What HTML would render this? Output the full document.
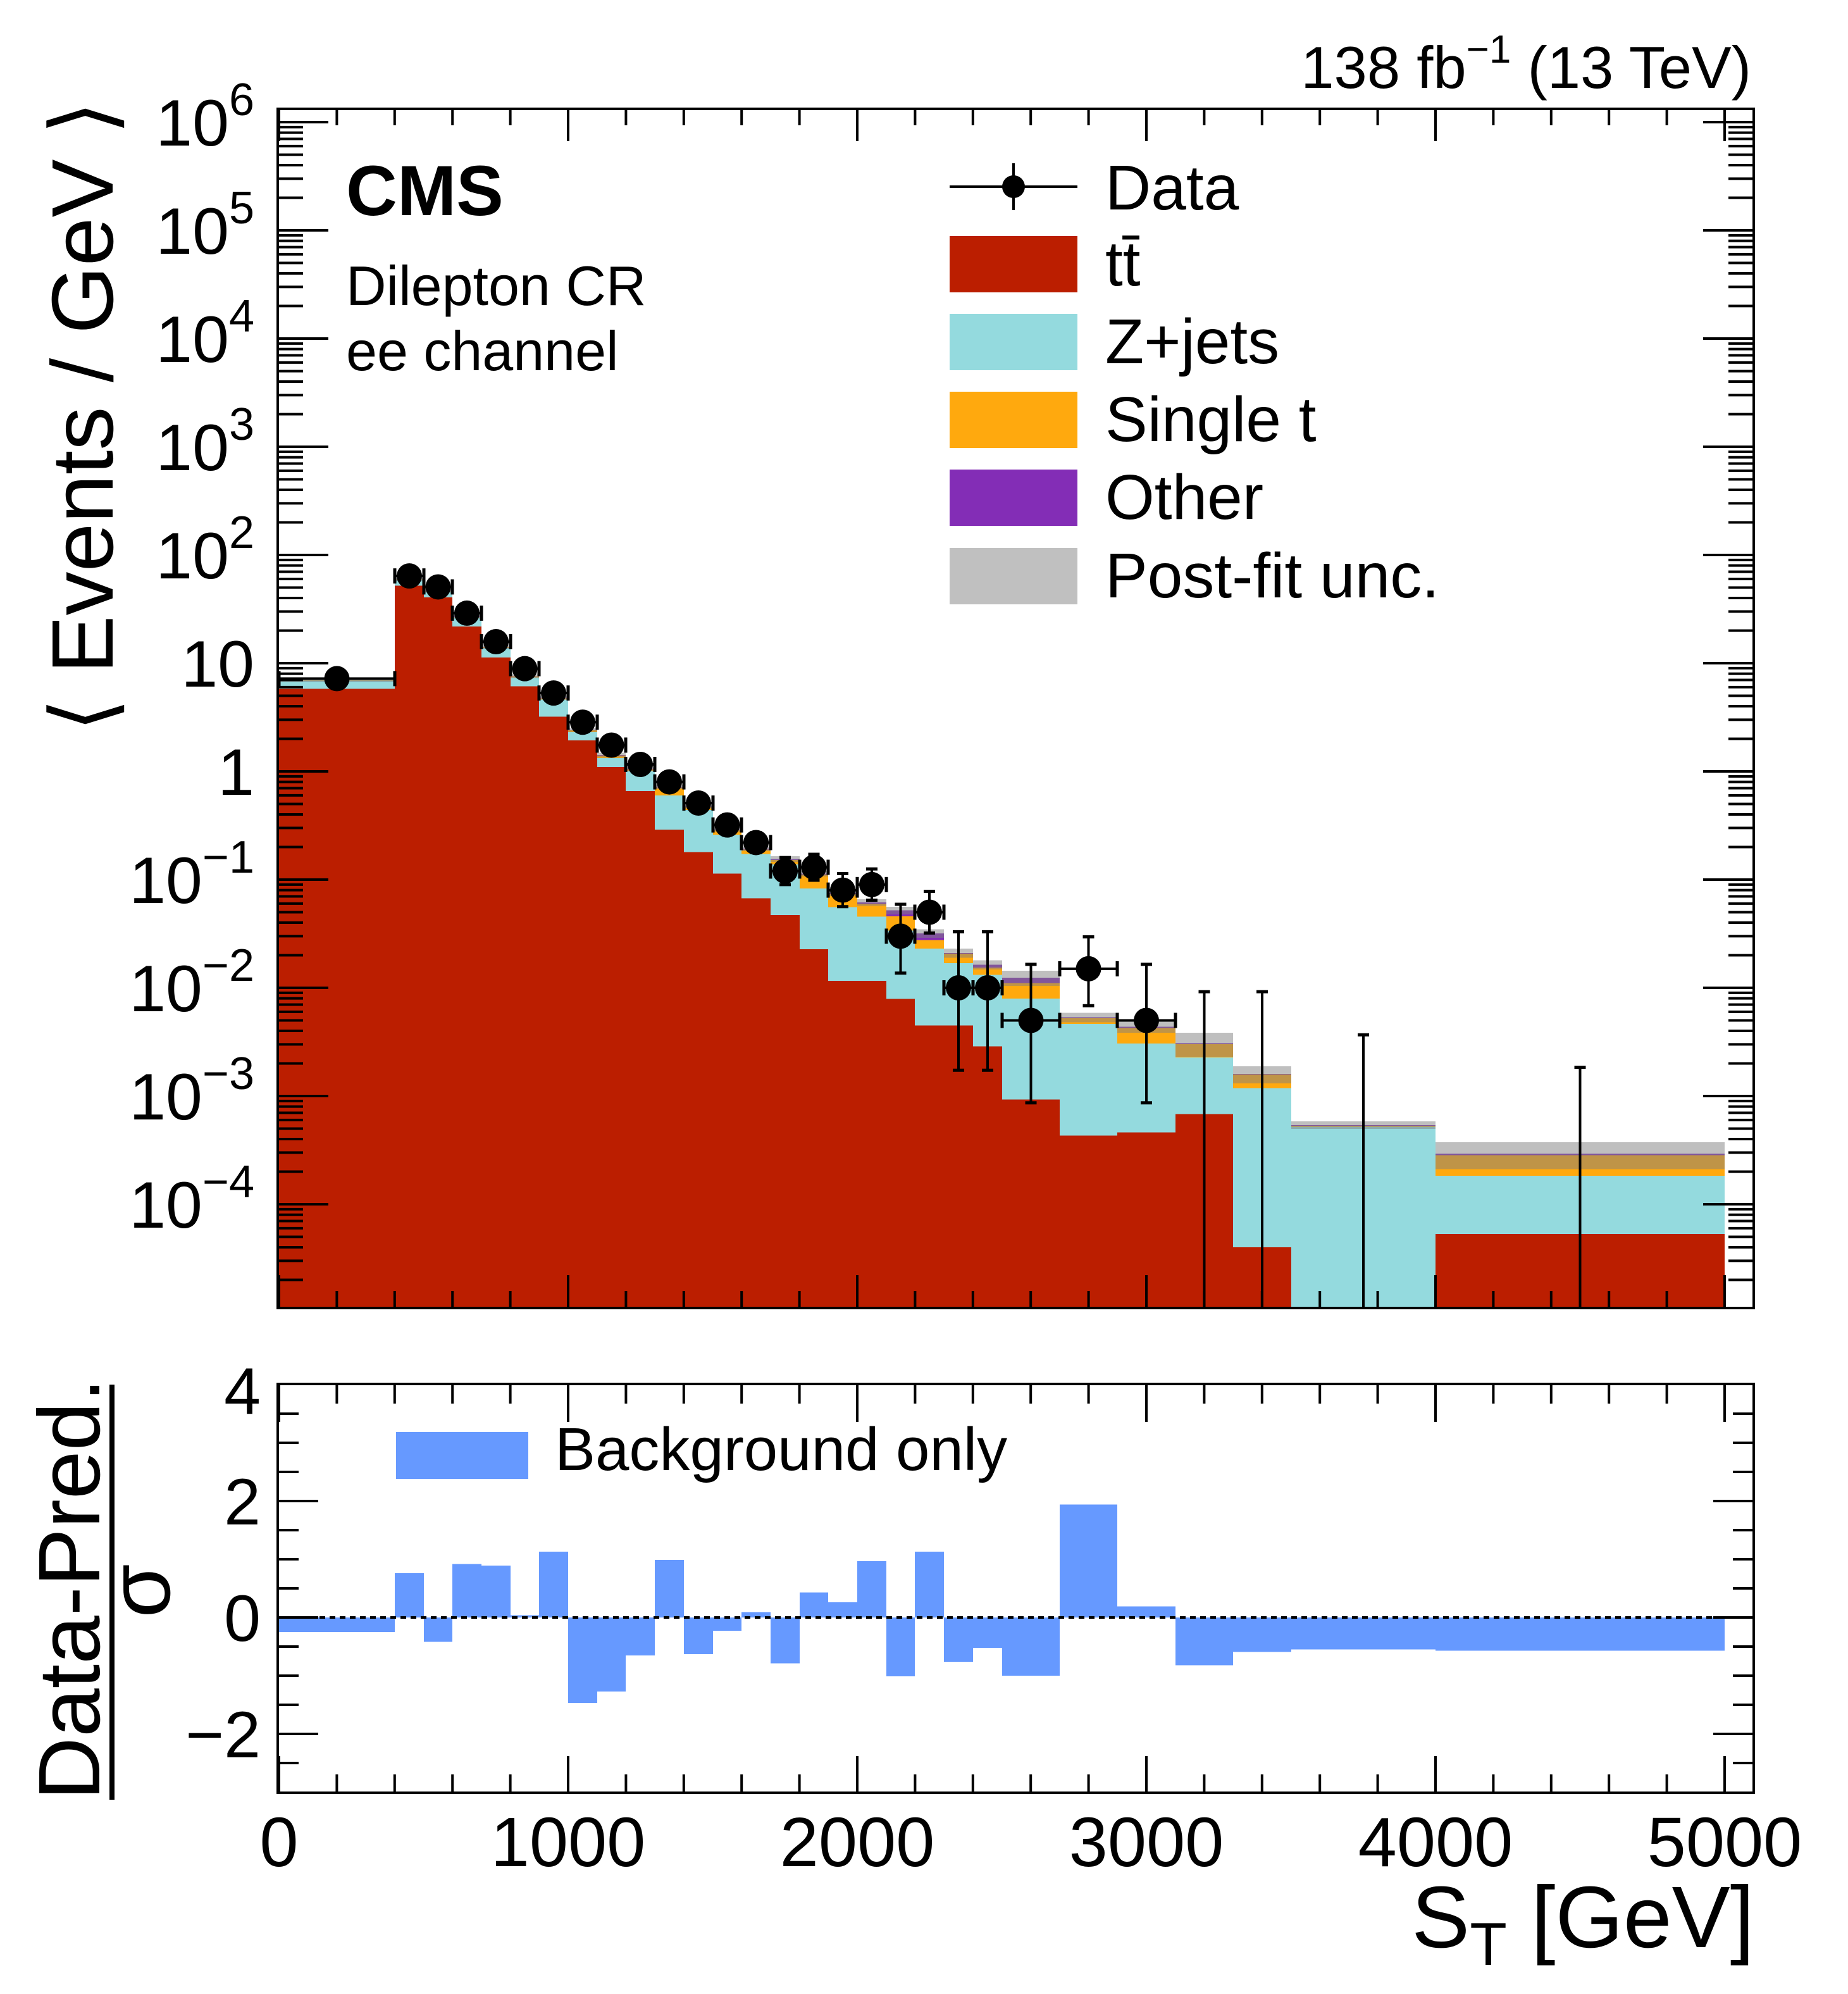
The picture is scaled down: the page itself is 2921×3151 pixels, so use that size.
<!DOCTYPE html>
<html><head><meta charset="utf-8"><title>CMS Dilepton CR ee channel</title>
<style>
html,body{margin:0;padding:0;background:#fff;}
svg{display:block;font-family:"Liberation Sans",sans-serif;}
</style></head>
<body>
<svg id="chart" xmlns="http://www.w3.org/2000/svg" width="2921" height="3151" viewBox="0 0 2921 3151">
<rect x="0" y="0" width="2921" height="3151" fill="#fff"/>
<g id="top-stack" shape-rendering="crispEdges"></g>
<g id="top-data"></g>
<g id="ratio-bars" shape-rendering="crispEdges"></g>
<g id="axes"></g>
<line x1="441" y1="2556" x2="2771" y2="2556" stroke="#000" stroke-width="4" stroke-dasharray="9,7"/>
<rect x="439" y="172" width="2333" height="1895" fill="none" stroke="#000" stroke-width="4"/>
<rect x="439" y="2187" width="2333" height="646" fill="none" stroke="#000" stroke-width="4"/>

<text x="547" y="340" font-size="112" font-weight="bold">CMS</text>
<text x="547" y="482" font-size="88">Dilepton CR</text>
<text x="547" y="585" font-size="88">ee channel</text>
<text x="2768" y="139" font-size="94" text-anchor="end">138 fb<tspan dy="-40" font-size="62">−1</tspan><tspan dy="40"> (13 TeV)</tspan></text>

<g>
 <g>
  <line x1="1501" y1="295" x2="1703" y2="295" stroke="#000" stroke-width="4"/>
  <line x1="1602" y1="258" x2="1602" y2="332" stroke="#000" stroke-width="4"/>
  <circle cx="1602" cy="295" r="18" fill="#000"/>
  <text x="1747" y="331" font-size="100">Data</text>
 </g>
 <g>
  <rect x="1501" y="373" width="202" height="89" fill="#bb1e00"/>
  <text x="1747" y="451" font-size="100">tt<tspan dx="-27" dy="-68" font-size="100">̄</tspan></text>
 </g>
 <g>
  <rect x="1501" y="496" width="202" height="89" fill="#94dade"/>
  <text x="1747" y="574" font-size="100">Z+jets</text>
 </g>
 <g>
  <rect x="1501" y="619" width="202" height="89" fill="#ffa90e"/>
  <text x="1747" y="697" font-size="100">Single t</text>
 </g>
 <g>
  <rect x="1501" y="742" width="202" height="89" fill="#832db6"/>
  <text x="1747" y="820" font-size="100">Other</text>
 </g>
 <g>
  <rect x="1501" y="866" width="202" height="89" fill="#c0c0c0"/>
  <text x="1747" y="944" font-size="100">Post-fit unc.</text>
 </g>
</g>
<g>
 <rect x="626" y="2263" width="209" height="74" fill="#6699ff"/>
 <text x="877" y="2323" font-size="96">Background only</text>
</g>

<text transform="translate(178,658) rotate(-90)" font-size="138" text-anchor="middle">⟨ Events / GeV ⟩</text>
<g>
 <text transform="translate(157,2511) rotate(-90)" font-size="138" text-anchor="middle">Data-Pred.</text>
 <line x1="177" y1="2188" x2="177" y2="2844" stroke="#000" stroke-width="8"/>
 <text transform="translate(268,2514) rotate(-90)" font-size="138" text-anchor="middle">σ</text>
</g>
<text x="2773" y="3077" font-size="138" text-anchor="end">S<tspan dy="28" font-size="96">T</tspan><tspan dy="-28"> [GeV]</tspan></text>
</svg>
<script>
// ---- data ----
const binEdges = [0,400,500,600,700,800,900,1000,1100,1200,1300,1400,1500,1600,1700,1800,1900,2000,2100,2200,2300,2400,2500,2700,2900,3100,3300,3500,4000,5000];
const ttbar  = [5.8,52,40.5,21.8,11.3,6.1,3.2,1.93,1.1,0.66,0.29,0.18,0.114,0.067,0.047,0.0227,0.0116,0.0116,0.0079,0.0045,0.0045,0.00287,0.00093,0.00043,0.00046,0.00068,0.00004,0,0.000053];
const zjets  = [1.1,7,5.5,4.7,2.5,1.3,1.4,0.37,0.23,0.35,0.31,0.26,0.146,0.105,0.091,0.060,0.044,0.034,0.026,0.0185,0.0124,0.0103,0.007,0.0042,0.0026,0.0016,0.00114,0.00052,0.00013];
const singleT= [0.05,0.5,0.5,0.3,0.2,0.15,0.15,0.1,0.07,0.04,0.11,0.03,0.025,0.018,0.014,0.029,0.018,0.014,0.012,0.0047,0.0038,0.0022,0.0031,0.0006,0.0012,0.00074,0.0004,0.00001,0.0001];
const other  = [0.02,0.2,0.2,0.2,0.1,0.05,0.05,0.02,0.02,0.01,0.01,0.005,0.005,0.003,0.003,0.002,0.002,0.002,0.006,0.0042,0.0003,0.001,0.0014,0.0001,0.0001,0.00005,0.00002,0.00001,0.00001];
const uncRel = [0.04,0.04,0.04,0.04,0.04,0.04,0.04,0.04,0.05,0.05,0.05,0.05,0.05,0.05,0.06,0.06,0.07,0.07,0.08,0.09,0.1,0.1,0.16,0.1,0.12,0.25,0.18,0.08,0.28];
const dataVals=[7.2,64,50.7,29,15.8,8.9,5.3,2.85,1.75,1.16,0.80,0.51,0.32,0.22,0.12,0.13,0.08,0.09,0.03,0.05,0.01,0.01,0.005,0.015,0.005,0,0,0,0];
const pulls  = [-0.25,0.76,-0.42,0.92,0.89,0.04,1.13,-1.47,-1.27,-0.65,0.99,-0.63,-0.23,0.09,-0.79,0.43,0.26,0.97,-1.01,1.13,-0.76,-0.52,-1.0,1.94,0.19,-0.82,-0.59,-0.55,-0.57];
const xTickLabels = ["0","1000","2000","3000","4000","5000"];
const yTickExps = [6,5,4,3,2,1,0,-1,-2,-3,-4];
const ratioTickLabels = ["4","2","0","−2"];
const ratioTickVals = [4,2,0,-2];

// ---- axes ----
const NS="http://www.w3.org/2000/svg";
const TOP=172, BOT=2066, L=441, R=2770, RT=2188, RB=2832;
function X(v){return 441+v*0.457;}
function Y(v){ if(v<=0) return BOT; const y=1219-171*Math.log10(v); return Math.max(TOP,Math.min(BOT,y)); }
function RY(r){return 2556-92*r;}
function mk(tag,attrs,parent){const e=document.createElementNS(NS,tag);for(const k in attrs)e.setAttribute(k,attrs[k]);parent.appendChild(e);return e;}

const gs=document.getElementById('top-stack');
const gd=document.getElementById('top-data');
const gr=document.getElementById('ratio-bars');
const ga=document.getElementById('axes');
const colors=['#bb1e00','#94dade','#ffa90e','#832db6'];
const comps=[ttbar,zjets,singleT,other];
const names=['ttbar','zjets','single-t','other'];

for(let i=0;i<binEdges.length-1;i++){
  const x0=Math.round(X(binEdges[i])), x1=Math.round(X(binEdges[i+1]));
  let cum=[0,0,0,0],s=0;
  for(let c=0;c<4;c++){s+=comps[c][i];cum[c]=s;}
  for(let c=3;c>=0;c--){
    if(cum[c]<=0) continue;
    const y=Y(cum[c]);
    const r=mk('rect',{x:x0,y:y,width:x1-x0,height:BOT-y,fill:colors[c]},gs);
    
    
  }
  const tot=cum[3];
  const yu=Y(tot*(1+uncRel[i])), yl=Y(tot*(1-uncRel[i]));
  const u=mk('rect',{x:x0,y:yu,width:x1-x0,height:yl-yu,fill:'rgba(128,128,128,0.5)'},gs);
  
  

  // data
  const w=binEdges[i+1]-binEdges[i];
  const N=Math.round(dataVals[i]*w);
  const tab=[[0,1.841],[0.827,2.299],[1.292,2.637],[1.633,2.918],[1.914,3.162]];
  let dn,up;
  if(N<=4){dn=tab[N][0];up=tab[N][1];}else{dn=Math.sqrt(N+0.25)-0.5;up=Math.sqrt(N+0.25)+0.5;}
  const cx=(x0+x1)/2;
  const g=mk('g',{},gd);
  
  
  const yHi=Y(dataVals[i]+up/w), yLo=N>0?Y(Math.max(dataVals[i]-dn/w,1e-9)):BOT;
  mk('line',{x1:cx,y1:yHi,x2:cx,y2:yLo,stroke:'#000','stroke-width':4},g);
  mk('line',{x1:cx-9,y1:yHi,x2:cx+9,y2:yHi,stroke:'#000','stroke-width':5},g);
  if(N>0){
    const yc=Y(dataVals[i]);
    if(yLo<BOT-2) mk('line',{x1:cx-9,y1:yLo,x2:cx+9,y2:yLo,stroke:'#000','stroke-width':5},g);
    mk('line',{x1:x0,y1:yc,x2:x1,y2:yc,stroke:'#000','stroke-width':4},g);
    mk('line',{x1:x0,y1:yc-12,x2:x0,y2:yc+12,stroke:'#000','stroke-width':5},g);
    mk('line',{x1:x1,y1:yc-12,x2:x1,y2:yc+12,stroke:'#000','stroke-width':5},g);
    mk('circle',{cx:cx,cy:yc,r:20,fill:'#000'},g);
  }
  // ratio
  const y0=RY(0), yr=RY(pulls[i]);
  const rb=mk('rect',{x:x0,y:Math.min(y0,yr),width:x1-x0,height:Math.abs(yr-y0),fill:'#6699ff'},gr);
  
  
}

// x ticks
for(let v=0;v<=5000;v+=200){
  const x=X(v), major=(v%1000===0);
  mk('line',{x1:x,y1:TOP,x2:x,y2:TOP+(major?51:26),stroke:'#000','stroke-width':4},ga);
  mk('line',{x1:x,y1:BOT,x2:x,y2:BOT-(major?51:26),stroke:'#000','stroke-width':4},ga);
  mk('line',{x1:x,y1:RT,x2:x,y2:RT+(major?59:30),stroke:'#000','stroke-width':4},ga);
  mk('line',{x1:x,y1:RB,x2:x,y2:RB-(major?57:28),stroke:'#000','stroke-width':4},ga);
}
xTickLabels.forEach((s,k)=>{
  const t=mk('text',{x:X(k*1000),y:2949,'font-size':110,'text-anchor':'middle'},ga);
  t.textContent=s;
  
  
});
// log y ticks
for(let e=-5;e<=6;e++){
  for(let m=1;m<=9;m++){
    const v=m*Math.pow(10,e);
    const y=1219-171*Math.log10(v);
    if(y<TOP+2||y>BOT) continue;
    const len=(m===1)?80:40;
    mk('line',{x1:L-2,y1:y,x2:L-2+len,y2:y,stroke:'#000','stroke-width':4},ga);
    mk('line',{x1:R+2,y1:y,x2:R+2-len,y2:y,stroke:'#000','stroke-width':4},ga);
  }
}
yTickExps.forEach(e=>{
  const y=1219-171*e;
  const t=mk('text',{x:402,y:y+37,'font-size':104,'text-anchor':'end'},ga);
  
  
  if(e===1){t.textContent='10';}
  else if(e===0){t.textContent='1';}
  else{
    const b=document.createElementNS(NS,'tspan');b.textContent='10';t.appendChild(b);
    const s=document.createElementNS(NS,'tspan');s.setAttribute('dy','-48');s.setAttribute('font-size','72');
    s.textContent=(e<0?'−':'')+Math.abs(e);t.appendChild(s);
  }
});
// ratio y ticks
for(let r=-3;r<=4.01;r+=0.5){
  const y=RY(r); if(y<RT+2||y>RB-2) continue;
  const major=(Math.abs(r%2)<1e-6);
  const len=major?64:33;
  mk('line',{x1:L-2,y1:y,x2:L-2+len,y2:y,stroke:'#000','stroke-width':4},ga);
  mk('line',{x1:R+2,y1:y,x2:R+2-len,y2:y,stroke:'#000','stroke-width':4},ga);
}
ratioTickLabels.forEach((s,k)=>{
  let y=RY(ratioTickVals[k])+37; if(ratioTickVals[k]===4) y=RY(4)+46;
  const t=mk('text',{x:412,y:y,'font-size':104,'text-anchor':'end'},ga);
  t.textContent=s;
  
  
});
</script>
</body></html>
